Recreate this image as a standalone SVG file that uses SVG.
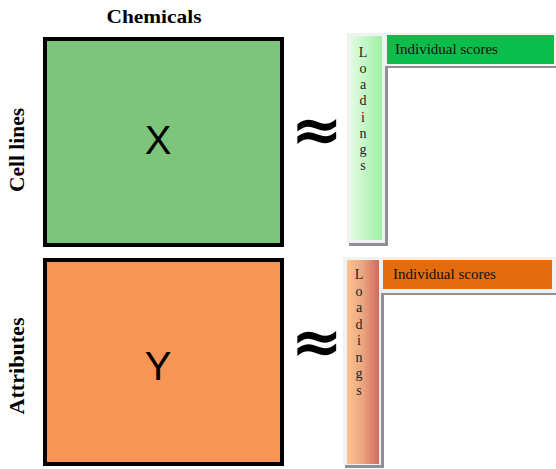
<svg xmlns="http://www.w3.org/2000/svg" width="556" height="469" viewBox="0 0 556 469">
<style>
.lbl{font-family:"Liberation Serif",serif;font-weight:bold;fill:#000}
.big{font-family:"Liberation Sans",Arial,sans-serif;font-size:40px;fill:#000;text-anchor:middle}
.approx{font-family:"DejaVu Sans",sans-serif;font-weight:bold;font-size:62px;fill:#000;text-anchor:middle}
.sc{font-family:"Liberation Serif",serif;font-size:15px;fill:#111}
.ld{font-family:"Liberation Serif",serif;font-size:14px;fill:#222;text-anchor:middle}
.frame{fill:#f1f1f1}
.shadow{fill:#8f9095}
</style>
<defs>
<linearGradient id="gg" x1="0" y1="0" x2="1" y2="0">
<stop offset="0" stop-color="#e3fbe3"/>
<stop offset="1" stop-color="#9ff0a6"/>
</linearGradient>
<linearGradient id="og" x1="0" y1="0" x2="1" y2="0">
<stop offset="0" stop-color="#fac390"/>
<stop offset="0.5" stop-color="#eba57e"/>
<stop offset="1" stop-color="#d06a5e"/>
</linearGradient>
</defs>
<g id="titles">
<text class="lbl" x="154" y="23" font-size="19" text-anchor="middle" textLength="95" lengthAdjust="spacingAndGlyphs">Chemicals</text>
<text class="lbl" font-size="20" text-anchor="middle" textLength="84" lengthAdjust="spacingAndGlyphs" transform="translate(24,150) rotate(-90)">Cell lines</text>
<text class="lbl" font-size="20" text-anchor="middle" textLength="97" lengthAdjust="spacingAndGlyphs" transform="translate(24,366) rotate(-90)">Attributes</text>
</g>
<g id="X">
<rect x="45" y="39" width="237" height="206" fill="#7dc57a" stroke="#000" stroke-width="4"/>
<text class="big" x="158" y="154">X</text>
</g>
<g id="Y">
<rect x="45" y="260" width="237" height="204" fill="#f79456" stroke="#000" stroke-width="4"/>
<text class="big" x="158" y="380">Y</text>
</g>
<g id="approx1"><text class="approx" x="317" y="151">≈</text></g>
<g id="approx2"><text class="approx" x="317" y="363">≈</text></g>
<g id="loadings1">
<rect class="shadow" x="349" y="35" width="39" height="211"/>
<rect class="frame" x="347" y="33" width="38" height="210"/>
<rect x="350" y="36" width="32" height="204" fill="url(#gg)"/>
<text class="ld" x="363" y="57">L</text>
<text class="ld" x="363" y="73">o</text>
<text class="ld" x="363" y="89">a</text>
<text class="ld" x="363" y="105">d</text>
<text class="ld" x="363" y="122">i</text>
<text class="ld" x="363" y="138">n</text>
<text class="ld" x="363" y="154">g</text>
<text class="ld" x="363" y="170">s</text>
</g>
<g id="scores1">
<rect class="shadow" x="385" y="64" width="171" height="4"/>
<rect class="frame" x="385" y="33" width="171" height="33"/>
<rect x="387" y="35" width="167" height="29" fill="#0bbd4a"/>
<text class="sc" x="395" y="54">Individual scores</text>
</g>
<g id="loadings2">
<rect class="shadow" x="345" y="259" width="39" height="209"/>
<rect class="frame" x="343" y="257" width="38" height="208"/>
<rect x="347" y="260" width="32" height="204" fill="url(#og)"/>
<text class="ld" x="359" y="279">L</text>
<text class="ld" x="359" y="296">o</text>
<text class="ld" x="359" y="312">a</text>
<text class="ld" x="359" y="329">d</text>
<text class="ld" x="359" y="345">i</text>
<text class="ld" x="359" y="362">n</text>
<text class="ld" x="359" y="378">g</text>
<text class="ld" x="359" y="395">s</text>
</g>
<g id="scores2">
<rect class="shadow" x="381" y="291" width="175" height="4"/>
<rect class="frame" x="381" y="257" width="175" height="36"/>
<rect x="383" y="260" width="169" height="29" fill="#e56c0d"/>
<text class="sc" x="393" y="279">Individual scores</text>
</g>
</svg>
